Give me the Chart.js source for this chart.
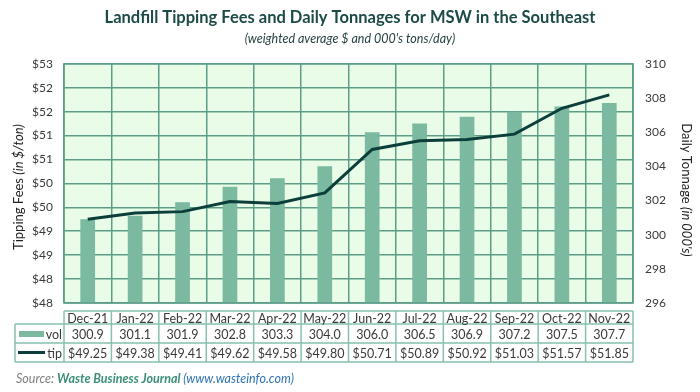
<!DOCTYPE html>
<html>
<head>
<meta charset="utf-8">
<script src="https://cdn.jsdelivr.net/npm/chart.js@4.4.0/dist/chart.umd.min.js"></script>
<style>
  html, body { margin: 0; padding: 0; background: #ffffff; }
  #wrap { width: 700px; height: 392px; position: relative; }
</style>
</head>
<body>
<div id="wrap"><canvas id="c" width="700" height="392"></canvas></div>
<script>
const categories = ['Dec-21','Jan-22','Feb-22','Mar-22','Apr-22','May-22','Jun-22','Jul-22','Aug-22','Sep-22','Oct-22','Nov-22'];
const vol = [300.9, 301.1, 301.9, 302.8, 303.3, 304.0, 306.0, 306.5, 306.9, 307.2, 307.5, 307.7];
const tip = [49.25, 49.38, 49.41, 49.62, 49.58, 49.80, 50.71, 50.89, 50.92, 51.03, 51.57, 51.85];
const leftTickLabels = ['$48','$48','$49','$49','$50','$50','$51','$51','$52','$52','$53'];
const rightTickLabels = ['296','298','300','302','304','306','308','310'];
const volLabels = ['300.9','301.1','301.9','302.8','303.3','304.0','306.0','306.5','306.9','307.2','307.5','307.7'];
const tipLabels = ['$49.25','$49.38','$49.41','$49.62','$49.58','$49.80','$50.71','$50.89','$50.92','$51.03','$51.57','$51.85'];

const FONT = 'Lato, "Open Sans", sans-serif';
const GRID = '#5c9d88';
const TABLE = '#86c2ab';
const BAR = '#7bb9a0';
const LINE = '#0c3f3b';
const TXT = '#3a3a3a';

const plotBg = {
  id: 'plotBg',
  beforeDraw(chart) {
    const {ctx, chartArea: a} = chart;
    ctx.save();
    ctx.fillStyle = '#e8fce7';
    ctx.fillRect(a.left, a.top, a.right - a.left, a.bottom - a.top);
    ctx.restore();
  }
};

const extras = {
  id: 'extras',
  afterDraw(chart) {
    const {ctx, chartArea: a} = chart;
    const xs = chart.scales.x;
    const n = categories.length;
    const cw = (a.right - a.left) / n;
    ctx.save();
    // plot border
    ctx.strokeStyle = GRID;
    ctx.lineWidth = 1.5;
    ctx.strokeRect(a.left, a.top, a.right - a.left, a.bottom - a.top);

    // axis titles (mixed style)
    function mixedVertical(x, y, rot, parts) {
      ctx.save();
      ctx.translate(x, y);
      ctx.rotate(rot);
      let total = 0;
      parts.forEach(p => { ctx.font = p.font; p.w = ctx.measureText(p.t).width; total += p.w; });
      let cx = -total / 2;
      ctx.textBaseline = 'middle';
      ctx.textAlign = 'left';
      ctx.fillStyle = '#222';
      parts.forEach(p => { ctx.font = p.font; ctx.fillText(p.t, cx, 0); cx += p.w; });
      ctx.restore();
    }
    mixedVertical(19, 187, -Math.PI / 2, [
      {t: 'Tipping Fees ', font: '13px ' + FONT},
      {t: '(in $/ton)', font: 'italic 13px ' + FONT}
    ]);
    mixedVertical(686, 190, Math.PI / 2, [
      {t: 'Daily Tonnage ', font: '13px ' + FONT},
      {t: "(in 000's)", font: 'italic 13px ' + FONT}
    ]);

    // data table
    const yH0 = 311, yH1 = 324, yV1 = 343, yT1 = 362, xL = 15;
    ctx.strokeStyle = TABLE;
    ctx.lineWidth = 1.5;
    ctx.beginPath();
    ctx.moveTo(a.left, yH0); ctx.lineTo(a.right, yH0);
    [yH1, yV1, yT1].forEach(y => { ctx.moveTo(xL, y); ctx.lineTo(a.right, y); });
    ctx.moveTo(xL, yH1); ctx.lineTo(xL, yT1);
    for (let i = 0; i <= n; i++) {
      const x = a.left + i * cw;
      ctx.moveTo(x, yH0); ctx.lineTo(x, yT1);
    }
    ctx.stroke();

    ctx.font = '12.5px ' + FONT;
    ctx.fillStyle = TXT;
    ctx.textAlign = 'center';
    ctx.textBaseline = 'middle';
    for (let i = 0; i < n; i++) {
      const cx = xs.getPixelForValue(i);
      ctx.fillText(categories[i], cx, (yH0 + yH1) / 2 + 1);
      ctx.fillText(volLabels[i], cx, (yH1 + yV1) / 2 + 1);
      ctx.fillText(tipLabels[i], cx, (yV1 + yT1) / 2 + 1);
    }
    // legend keys
    ctx.textAlign = 'right';
    ctx.fillText('vol', a.left - 2, (yH1 + yV1) / 2 + 1);
    ctx.fillText('tip', a.left - 2, (yV1 + yT1) / 2 + 1);
    ctx.fillStyle = BAR;
    ctx.fillRect(19, 331, 25, 6);
    ctx.strokeStyle = LINE;
    ctx.lineWidth = 3;
    ctx.beginPath();
    ctx.moveTo(18, 352.5); ctx.lineTo(45, 352.5);
    ctx.stroke();

    // source line
    let sx = 16;
    const sy = 379;
    ctx.textAlign = 'left';
    const src = [
      {t: 'Source: ', font: 'italic 12.5px ' + FONT, c: '#7f7f7f'},
      {t: 'Waste Business Journal', font: 'italic bold 12.5px ' + FONT, c: '#3b8f78'},
      {t: ' (www.wasteinfo.com)', font: 'italic 12.5px ' + FONT, c: '#2e74b5'}
    ];
    src.forEach(p => { ctx.font = p.font; ctx.fillStyle = p.c; ctx.fillText(p.t, sx, sy); sx += ctx.measureText(p.t).width; });
    ctx.restore();
  }
};

new Chart(document.getElementById('c'), {
  data: {
    labels: categories,
    datasets: [
      {
        type: 'line', label: 'tip', data: tip, yAxisID: 'yL',
        borderColor: LINE, backgroundColor: LINE, borderWidth: 3,
        pointRadius: 0, tension: 0, order: 0
      },
      {
        type: 'bar', label: 'vol', data: vol, yAxisID: 'yR',
        backgroundColor: BAR, borderWidth: 0,
        barPercentage: 0.31, categoryPercentage: 1, order: 1
      }
    ]
  },
  options: {
    responsive: false,
    animation: false,
    devicePixelRatio: 1,
    layout: { padding: { left: 0, right: 0, top: 0, bottom: 89 } },
    plugins: {
      legend: { display: false },
      tooltip: { enabled: false },
      title: {
        display: true,
        text: 'Landfill Tipping Fees and Daily Tonnages for MSW in the Southeast',
        color: '#1b4a47',
        font: { family: FONT, size: 16.5, weight: 'bold', lineHeight: 1.2 },
        padding: { top: 8, bottom: 2 }
      },
      subtitle: {
        display: true,
        text: "(weighted average $ and 000's tons/day)",
        color: '#24413f',
        font: { family: FONT, size: 12.5, style: 'italic', lineHeight: 1.2 },
        padding: { top: 2, bottom: 17 }
      }
    },
    scales: {
      x: {
        type: 'category',
        offset: true,
        grid: { offset: true, color: GRID, lineWidth: 1.5, drawTicks: false },
        border: { display: false },
        ticks: { display: false },
        afterFit(s) { s.height = 0; }
      },
      yL: {
        type: 'linear', position: 'left',
        min: 47.5, max: 52.5,
        grid: { color: GRID, lineWidth: 1.5, drawTicks: false },
        border: { display: false },
        ticks: {
          stepSize: 0.5, padding: 11, color: TXT,
          font: { family: FONT, size: 12 },
          callback: (v, i) => leftTickLabels[i]
        },
        afterFit(s) { s.width = 64; }
      },
      yR: {
        type: 'linear', position: 'right',
        min: 296, max: 310,
        grid: { display: false, drawTicks: false },
        border: { display: false },
        ticks: {
          stepSize: 2, padding: 12, color: TXT,
          font: { family: FONT, size: 12 },
          callback: (v, i) => rightTickLabels[i]
        },
        afterFit(s) { s.width = 67; }
      }
    }
  },
  plugins: [plotBg, extras]
});
</script>
</body>
</html>
